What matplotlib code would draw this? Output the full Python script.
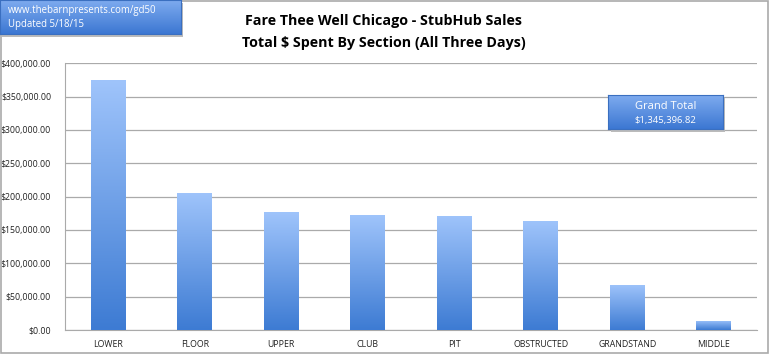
import matplotlib
matplotlib.use("Agg")
import matplotlib.pyplot as plt
import numpy as np
from matplotlib.colors import LinearSegmentedColormap
from matplotlib.patches import Rectangle
from matplotlib.ticker import FuncFormatter

# Data
sections = ["LOWER", "FLOOR", "UPPER", "CLUB", "PIT", "OBSTRUCTED", "GRANDSTAND", "MIDDLE"]
spent = [374500, 205500, 176500, 172000, 171500, 163500, 67500, 14000]
grand_total = "$1,345,396.82"
y_ticks = [0, 50000, 100000, 150000, 200000, 250000, 300000, 350000, 400000]

plt.rcParams['font.family'] = ['Open Sans', 'DejaVu Sans']

bar_cmap = LinearSegmentedColormap.from_list("bar", ["#3d7bd3", "#9fc4fb"])
box_cmap = LinearSegmentedColormap.from_list("box", ["#3c77d2", "#7eabef"])

fig = plt.figure(figsize=(7.7, 3.54), dpi=100)
ax = fig.add_axes([0.0844, 0.0678, 0.8986, 0.7533])

x = np.arange(len(sections))
bars = ax.bar(x, spent, width=0.4, color="none", edgecolor="none", zorder=3)
grad = np.linspace(0, 1, 256).reshape(-1, 1)
for b in bars:
    x0, w, h = b.get_x(), b.get_width(), b.get_height()
    im = ax.imshow(grad, cmap=bar_cmap, origin="lower", aspect="auto",
                   extent=[x0, x0 + w, 0, h], zorder=3)
    im.set_clip_path(b)

ax.set_xlim(-0.5, len(sections) - 0.5)
ax.set_ylim(0, 400000)
ax.set_yticks(y_ticks)
ax.yaxis.set_major_formatter(FuncFormatter(lambda v, p: f"${v:,.2f}"))
ax.set_xticks(x)
ax.set_xticklabels(sections)
ax.tick_params(axis="both", labelsize=6.3, colors="#222222", length=0)
ax.tick_params(axis="y", pad=10)
ax.tick_params(axis="x", pad=7)
ax.grid(axis="y", color="#aaaaaa", linewidth=0.9, zorder=0)
for side in ["top", "right"]:
    ax.spines[side].set_visible(False)
ax.spines["left"].set_color("#aaaaaa")
ax.spines["bottom"].set_color("#aaaaaa")

fig.text(0.498, 0.94, "Fare Thee Well Chicago - StubHub Sales", ha="center", va="center",
         fontsize=10.3, fontweight="bold")
fig.text(0.498, 0.878, "Total $ Spent By Section (All Three Days)", ha="center", va="center",
         fontsize=10.3, fontweight="bold")


def gradient_box(rect, lines):
    l, b, w, h = rect
    fig.patches.append(Rectangle((l + 0.003, b - 0.008), w, h, transform=fig.transFigure,
                                 facecolor="#bbbbbb", edgecolor="none", zorder=1))
    bax = fig.add_axes(rect, zorder=2)
    bax.imshow(grad, cmap=box_cmap, origin="lower", aspect="auto", extent=[0, 1, 0, 1])
    bax.set_xlim(0, 1)
    bax.set_ylim(0, 1)
    bax.set_xticks([])
    bax.set_yticks([])
    for s in bax.spines.values():
        s.set_color("#3a6fc0")
        s.set_linewidth(0.8)
    for tx, ty, txt, size, ha in lines:
        bax.text(tx, ty, txt, color="white", fontsize=size, ha=ha, va="center")


gradient_box([0.0, 0.904, 0.235, 0.096],
             [(0.045, 0.68, "www.thebarnpresents.com/gd50", 6.9, "left"),
              (0.045, 0.29, "Updated 5/18/15", 6.9, "left")])
gradient_box([0.790, 0.636, 0.149, 0.096],
             [(0.5, 0.65, "Grand Total", 8.0, "center"),
              (0.5, 0.25, grand_total, 6.8, "center")])

fig.patches.append(Rectangle((0.001, 0.003), 0.997, 0.995, transform=fig.transFigure,
                             facecolor="none", edgecolor="#aaaaaa", linewidth=1.2, zorder=0))

fig.savefig("out.png", dpi=100, facecolor="white")
